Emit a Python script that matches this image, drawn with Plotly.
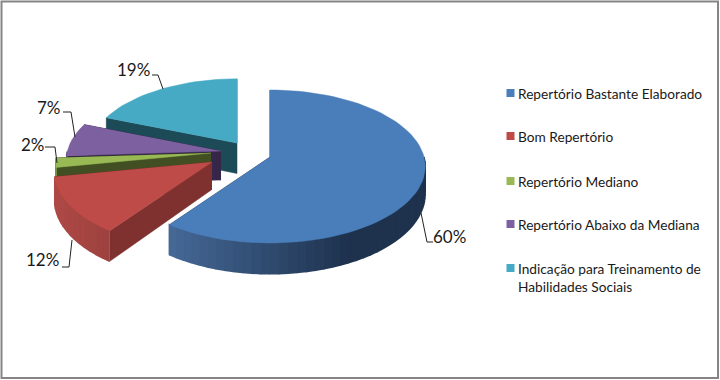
import math
import plotly.graph_objects as go

categories = ["Repertório Bastante Elaborado", "Bom Repertório", "Repertório Mediano",
              "Repertório Abaixo da Mediana", "Indicação para Treinamento de<br>Habilidades Sociais"]
values = [60, 12, 2, 7, 19]

top_colors = ["#4A7EBB", "#BE4B48", "#98B954", "#7D60A0", "#46AAC4"]
cut_colors = ["#1F3550", "#7F312F", "#414F22", "#35264A", "#1C4A56"]
rim_left = [(72, 108, 155), (176, 74, 71), (120, 150, 70), (90, 70, 120), (30, 90, 105)]
rim_right = [(30, 50, 78), (140, 58, 55), (65, 80, 35), (53, 38, 74), (28, 74, 86)]

# projection of the pie: per-slice apex in pixels, shared radii, perspective and height
apexes = [(270, 157), (212, 162), (211, 153), (221, 151), (237, 143)]
A, B, K = 154.0, 75.3, 0.124
D = [27.0, 27.0, 27.0, 29.0, 32.0]
FWD = [0.0, 0.12, 0.0, -0.02, -0.4]
label_text_pos = [(449, 236), (42, 259), (33, 144), (49, 107), (133, 69)]
leader_paths = [[(421, 213), (427, 242), (433, 242)],
                [(72, 240), (69, 267), (62, 267)],
                [(57, 163), (55, 147), (45, 147)],
                [(75, 137), (71, 112), (63, 112)],
                [(163, 89), (158, 75), (152, 75)]]
legend_y = [93, 136, 181, 224, 268]
legend_text_y = [93, 136, 181, 224, 277]

fig = go.Figure()


def proj(i, theta, r=1.0, h=0.0):
    ax, ay = apexes[i]
    X = math.sin(theta) * r
    Y = -math.cos(theta) * r
    s = 1.0 / (1.0 - K * (Y + FWD[i]))
    return ax + A * X * s, ay + B * Y * s + h * s


def poly(pts, color, w=0.5):
    fig.add_trace(go.Scatter(x=[p[0] for p in pts], y=[p[1] for p in pts], mode="lines",
                             fill="toself", fillcolor=color, line=dict(color=color, width=w),
                             hoverinfo="skip", showlegend=False))


total = sum(values)
bounds = [0.0]
for v in values:
    bounds.append(bounds[-1] + v / total * 2 * math.pi)

for i in [4, 3, 2, 1, 0]:
    t0, t1 = bounds[i], bounds[i + 1]
    n = max(4, int((t1 - t0) / math.radians(3)))
    ts = [t0 + (t1 - t0) * k / n for k in range(n + 1)]
    # cut faces
    for t in (t0, t1):
        poly([proj(i, t, 0, 0), proj(i, t, 1, 0), proj(i, t, 1, D[i]), proj(i, t, 0, D[i])], cut_colors[i])
    # outer wall, only where it faces the viewer, shaded along the rim
    for k in range(n):
        mid = (ts[k] + ts[k + 1]) / 2
        if math.cos(mid) > 0.0:
            continue
        xm = proj(i, mid)[0] - apexes[i][0]
        f = min(1.0, max(0.0, (xm + 110) / 190)) if i == 0 else min(1.0, max(0.0, (xm + 160) / 110))
        c = tuple(int(a + (b - a) * f) for a, b in zip(rim_left[i], rim_right[i]))
        poly([proj(i, ts[k]), proj(i, ts[k + 1]), proj(i, ts[k + 1], 1, D[i]), proj(i, ts[k], 1, D[i])],
             "rgb(%d,%d,%d)" % c, 1.5)
    # top face
    poly([proj(i, t0, 0)] + [proj(i, t) for t in ts], top_colors[i])

for path, v, pos in zip(leader_paths, values, label_text_pos):
    fig.add_trace(go.Scatter(x=[p[0] for p in path], y=[p[1] for p in path], mode="lines",
                             line=dict(color="#222222", width=1), hoverinfo="skip", showlegend=False))
    fig.add_annotation(x=pos[0], y=pos[1], text=f"{v}%", showarrow=False,
                       font=dict(family="Lato", size=17, color="#1a1a1a"))

fig.add_trace(go.Scatter(x=[510.5] * 5, y=legend_y, mode="markers",
                         marker=dict(symbol="square", size=8, color=top_colors),
                         hoverinfo="skip", showlegend=False))
for name, y in zip(categories, legend_text_y):
    fig.add_annotation(x=516, y=y, text=name, showarrow=False, xanchor="left", align="left",
                       font=dict(family="Lato", size=13.7, color="#1a1a1a"))

fig.update_layout(width=720, height=380, margin=dict(l=0, r=0, t=0, b=0),
                  paper_bgcolor="white", plot_bgcolor="white",
                  xaxis=dict(range=[0, 720], visible=False, fixedrange=True),
                  yaxis=dict(range=[380, 0], visible=False, fixedrange=True),
                  shapes=[dict(type="rect", xref="x", yref="y", x0=1.5, y0=1.5, x1=718, y1=378,
                               line=dict(color="#858585", width=2))])
fig.write_html("out.html", config=dict(displayModeBar=False),
               post_script="document.body.style.margin='0';document.body.style.overflow='hidden';")
